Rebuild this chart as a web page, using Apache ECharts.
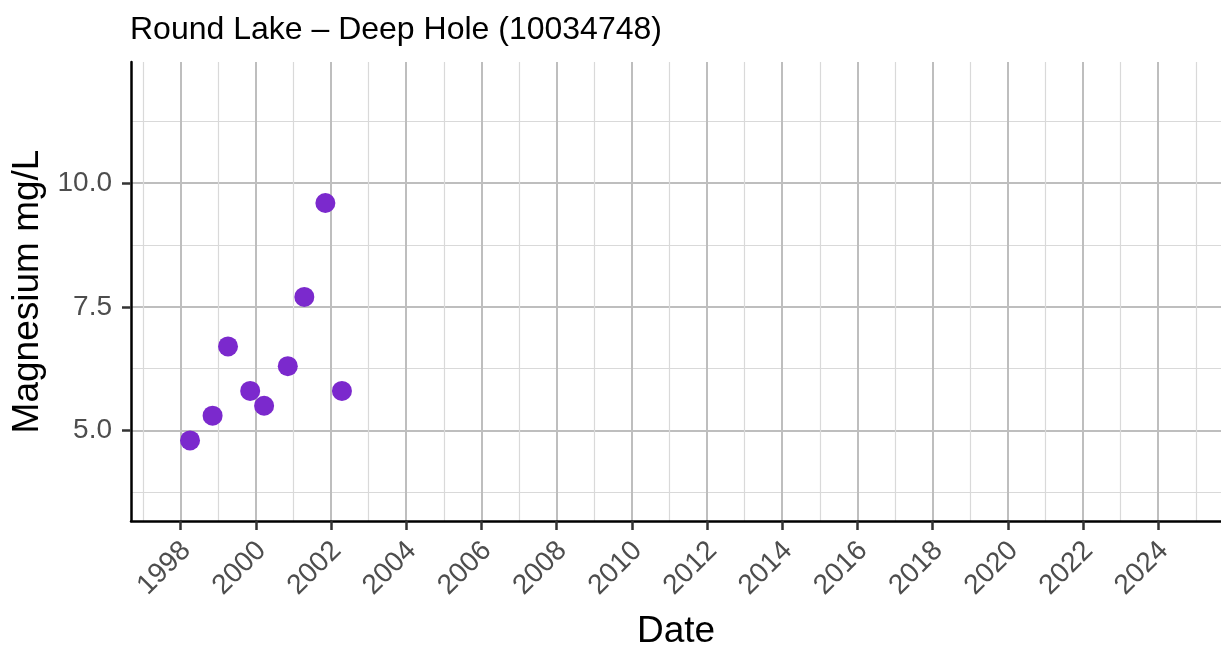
<!DOCTYPE html>
<html>
<head>
<meta charset="utf-8">
<script src="https://cdn.jsdelivr.net/npm/echarts@6/dist/echarts.min.js"></script>
<style>
  html, body { margin: 0; padding: 0; background: #fff; }
  #chart { width: 1221px; height: 646px; }
</style>
</head>
<body>
<div id="chart"></div>
<script>
// sample dates as decimal years, magnesium in mg/L
const sampleYears = [1998.25, 1998.85, 1999.26, 1999.85, 2000.22, 2000.85, 2001.29, 2001.85, 2002.29];
const magnesium = [4.8, 5.3, 6.7, 5.8, 5.5, 6.3, 7.7, 9.6, 5.8];

const yearTicks = [1998, 2000, 2002, 2004, 2006, 2008, 2010, 2012, 2014, 2016, 2018, 2020, 2022, 2024];
const minorYearTicks = [1997, 1999, 2001, 2003, 2005, 2007, 2009, 2011, 2013, 2015, 2017, 2019, 2021, 2023, 2025];
const valueTicks = [5, 7.5, 10];
const minorValueTicks = [3.75, 6.25, 8.75, 11.25];

const FONT = "Liberation Sans";
const xMin = 1996.68, xMax = 2025.67;
const yMin = 3.17, yMax = 12.45;

var myChart = echarts.init(document.getElementById("chart"));

var option = {
  animation: false,
  title: {
    text: "Round Lake \u2013 Deep Hole (10034748)",
    left: 125,
    top: 9,
    textStyle: { fontFamily: FONT, fontSize: 32, fontWeight: "normal", color: "#000" },
  },
  grid: {
    left: 131,
    right: 0,
    top: 62,
    bottom: 125,
    outerBoundsMode: "none",
  },
  xAxis: [
    {
      type: "value",
      min: xMin,
      max: xMax,
      name: "Date",
      nameLocation: "middle",
      nameGap: 92,
      nameTextStyle: { fontFamily: FONT, fontSize: 37, color: "#000" },
      axisLine: { show: true, lineStyle: { color: "#000", width: 2.5 } },
      axisTick: {
        show: true,
        length: 9,
        customValues: yearTicks,
        lineStyle: { color: "#333", width: 2.5 },
      },
      axisLabel: {
        customValues: yearTicks,
        rotate: 45,
        margin: 31,
        padding: [0, -8, 0, 0],
        fontFamily: FONT,
        fontSize: 28,
        color: "#4d4d4d",
        formatter: (v) => String(Math.round(v)),
      },
      splitLine: { show: true, lineStyle: { color: "#bebebe", width: 2 } },
    },
    {
      type: "value",
      min: xMin,
      max: xMax,
      position: "top",
      axisLine: { show: false },
      axisTick: { show: false, customValues: minorYearTicks },
      axisLabel: { show: false, customValues: minorYearTicks },
      splitLine: { show: true, lineStyle: { color: "#d9d9d9", width: 1.2 } },
    },
  ],
  yAxis: [
    {
      type: "value",
      min: yMin,
      max: yMax,
      name: "Magnesium mg/L",
      nameLocation: "middle",
      nameGap: 84,
      nameTextStyle: { fontFamily: FONT, fontSize: 37, color: "#000" },
      axisLine: { show: true, lineStyle: { color: "#000", width: 2.5 } },
      axisTick: {
        show: true,
        length: 9,
        customValues: valueTicks,
        lineStyle: { color: "#333", width: 2.5 },
      },
      axisLabel: {
        customValues: valueTicks,
        margin: 19,
        fontFamily: FONT,
        fontSize: 28,
        color: "#4d4d4d",
        formatter: (v) => v.toFixed(1),
      },
      splitLine: { show: true, lineStyle: { color: "#bebebe", width: 2 } },
    },
    {
      type: "value",
      min: yMin,
      max: yMax,
      position: "right",
      axisLine: { show: false },
      axisTick: { show: false, customValues: minorValueTicks },
      axisLabel: { show: false, customValues: minorValueTicks },
      splitLine: { show: true, lineStyle: { color: "#d9d9d9", width: 1.2 } },
    },
  ],
  series: [
    {
      type: "scatter",
      xAxisIndex: 0,
      yAxisIndex: 0,
      symbol: "circle",
      symbolSize: 20,
      itemStyle: { color: "#7b29cd", opacity: 1 },
      data: sampleYears.map((yr, i) => [yr, magnesium[i]]),
      z: 5,
    },
  ],
};

option && myChart.setOption(option);
</script>
</body>
</html>
